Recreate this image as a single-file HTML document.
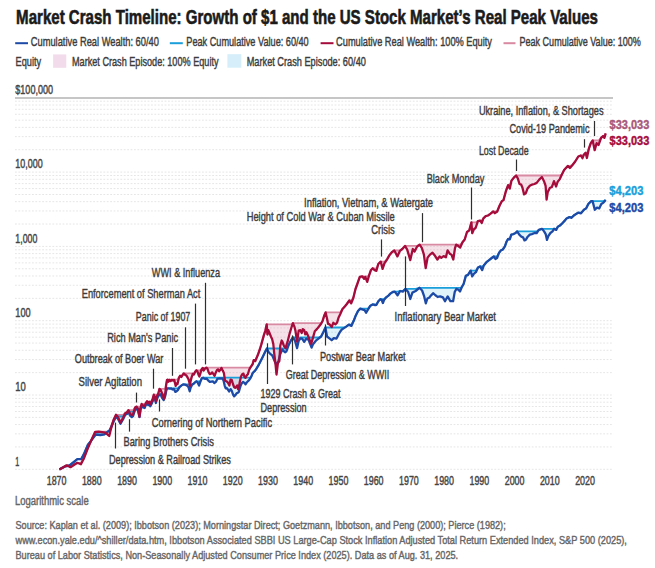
<!DOCTYPE html><html><head><meta charset="utf-8"><style>html,body{margin:0;padding:0;background:#fff;}svg{display:block;}text{font-family:"Liberation Sans", Arial, sans-serif;}</style></head><body>
<svg width="655" height="568" viewBox="0 0 655 568">
<rect width="655" height="568" fill="#fff"/>
<text x="16.1" y="23.5" font-size="20" fill="#1b1b1b" font-weight="bold" stroke="#1b1b1b" stroke-width="0.6" textLength="581.8" lengthAdjust="spacingAndGlyphs">Market Crash Timeline: Growth of $1 and the US Stock Market’s Real Peak Values</text>
<line x1="15.2" y1="43.2" x2="28" y2="43.2" stroke="#1d4aa6" stroke-width="2"/>
<text x="30.8" y="46.1" font-size="13" fill="#3c3c3c" font-weight="normal" stroke="#3c3c3c" stroke-width="0.42" textLength="128.1" lengthAdjust="spacingAndGlyphs">Cumulative Real Wealth: 60/40</text>
<line x1="169.8" y1="43.2" x2="182.8" y2="43.2" stroke="#1a9fdb" stroke-width="2"/>
<text x="186.3" y="46.1" font-size="13" fill="#3c3c3c" font-weight="normal" stroke="#3c3c3c" stroke-width="0.42" textLength="122.4" lengthAdjust="spacingAndGlyphs">Peak Cumulative Value: 60/40</text>
<line x1="320.6" y1="43.2" x2="333.5" y2="43.2" stroke="#a50c3c" stroke-width="2"/>
<text x="336.1" y="46.1" font-size="13" fill="#3c3c3c" font-weight="normal" stroke="#3c3c3c" stroke-width="0.42" textLength="155.9" lengthAdjust="spacingAndGlyphs">Cumulative Real Wealth: 100% Equity</text>
<line x1="503.5" y1="43.2" x2="515.5" y2="43.2" stroke="#d98aa3" stroke-width="2"/>
<text x="519.5" y="46.1" font-size="13" fill="#3c3c3c" font-weight="normal" stroke="#3c3c3c" stroke-width="0.42" textLength="121.3" lengthAdjust="spacingAndGlyphs">Peak Cumulative Value: 100%</text>
<text x="15.6" y="65.7" font-size="13" fill="#3c3c3c" font-weight="normal" stroke="#3c3c3c" stroke-width="0.42" textLength="25.6" lengthAdjust="spacingAndGlyphs">Equity</text>
<rect x="53.1" y="54.4" width="13.2" height="13.4" fill="#f2dceb"/>
<text x="72" y="65.7" font-size="13" fill="#3c3c3c" font-weight="normal" stroke="#3c3c3c" stroke-width="0.42" textLength="146.5" lengthAdjust="spacingAndGlyphs">Market Crash Episode: 100% Equity</text>
<rect x="227.4" y="54.2" width="13.9" height="13.5" fill="#d5eef9"/>
<text x="246.7" y="65.7" font-size="13" fill="#3c3c3c" font-weight="normal" stroke="#3c3c3c" stroke-width="0.42" textLength="119.2" lengthAdjust="spacingAndGlyphs">Market Crash Episode: 60/40</text>
<line x1="15" y1="469.3" x2="613" y2="469.3" stroke="#e6e6e6" stroke-width="1" stroke-dasharray="1.8 1.6"/>
<line x1="15" y1="446.93" x2="613" y2="446.93" stroke="#e6e6e6" stroke-width="1" stroke-dasharray="1.8 1.6"/>
<line x1="15" y1="433.85" x2="613" y2="433.85" stroke="#e6e6e6" stroke-width="1" stroke-dasharray="1.8 1.6"/>
<line x1="15" y1="424.57" x2="613" y2="424.57" stroke="#e6e6e6" stroke-width="1" stroke-dasharray="1.8 1.6"/>
<line x1="15" y1="417.37" x2="613" y2="417.37" stroke="#e6e6e6" stroke-width="1" stroke-dasharray="1.8 1.6"/>
<line x1="15" y1="411.48" x2="613" y2="411.48" stroke="#e6e6e6" stroke-width="1" stroke-dasharray="1.8 1.6"/>
<line x1="15" y1="406.51" x2="613" y2="406.51" stroke="#e6e6e6" stroke-width="1" stroke-dasharray="1.8 1.6"/>
<line x1="15" y1="402.2" x2="613" y2="402.2" stroke="#e6e6e6" stroke-width="1" stroke-dasharray="1.8 1.6"/>
<line x1="15" y1="398.4" x2="613" y2="398.4" stroke="#e6e6e6" stroke-width="1" stroke-dasharray="1.8 1.6"/>
<line x1="15" y1="395" x2="613" y2="395" stroke="#e6e6e6" stroke-width="1" stroke-dasharray="1.8 1.6"/>
<line x1="15" y1="372.63" x2="613" y2="372.63" stroke="#e6e6e6" stroke-width="1" stroke-dasharray="1.8 1.6"/>
<line x1="15" y1="359.55" x2="613" y2="359.55" stroke="#e6e6e6" stroke-width="1" stroke-dasharray="1.8 1.6"/>
<line x1="15" y1="350.27" x2="613" y2="350.27" stroke="#e6e6e6" stroke-width="1" stroke-dasharray="1.8 1.6"/>
<line x1="15" y1="343.07" x2="613" y2="343.07" stroke="#e6e6e6" stroke-width="1" stroke-dasharray="1.8 1.6"/>
<line x1="15" y1="337.18" x2="613" y2="337.18" stroke="#e6e6e6" stroke-width="1" stroke-dasharray="1.8 1.6"/>
<line x1="15" y1="332.21" x2="613" y2="332.21" stroke="#e6e6e6" stroke-width="1" stroke-dasharray="1.8 1.6"/>
<line x1="15" y1="327.9" x2="613" y2="327.9" stroke="#e6e6e6" stroke-width="1" stroke-dasharray="1.8 1.6"/>
<line x1="15" y1="324.1" x2="613" y2="324.1" stroke="#e6e6e6" stroke-width="1" stroke-dasharray="1.8 1.6"/>
<line x1="15" y1="320.7" x2="613" y2="320.7" stroke="#e6e6e6" stroke-width="1" stroke-dasharray="1.8 1.6"/>
<line x1="15" y1="298.33" x2="613" y2="298.33" stroke="#e6e6e6" stroke-width="1" stroke-dasharray="1.8 1.6"/>
<line x1="15" y1="285.25" x2="613" y2="285.25" stroke="#e6e6e6" stroke-width="1" stroke-dasharray="1.8 1.6"/>
<line x1="15" y1="275.97" x2="613" y2="275.97" stroke="#e6e6e6" stroke-width="1" stroke-dasharray="1.8 1.6"/>
<line x1="15" y1="268.77" x2="613" y2="268.77" stroke="#e6e6e6" stroke-width="1" stroke-dasharray="1.8 1.6"/>
<line x1="15" y1="262.88" x2="613" y2="262.88" stroke="#e6e6e6" stroke-width="1" stroke-dasharray="1.8 1.6"/>
<line x1="15" y1="257.91" x2="613" y2="257.91" stroke="#e6e6e6" stroke-width="1" stroke-dasharray="1.8 1.6"/>
<line x1="15" y1="253.6" x2="613" y2="253.6" stroke="#e6e6e6" stroke-width="1" stroke-dasharray="1.8 1.6"/>
<line x1="15" y1="249.8" x2="613" y2="249.8" stroke="#e6e6e6" stroke-width="1" stroke-dasharray="1.8 1.6"/>
<line x1="15" y1="246.4" x2="613" y2="246.4" stroke="#e6e6e6" stroke-width="1" stroke-dasharray="1.8 1.6"/>
<line x1="15" y1="224.03" x2="613" y2="224.03" stroke="#e6e6e6" stroke-width="1" stroke-dasharray="1.8 1.6"/>
<line x1="15" y1="210.95" x2="613" y2="210.95" stroke="#e6e6e6" stroke-width="1" stroke-dasharray="1.8 1.6"/>
<line x1="15" y1="201.67" x2="613" y2="201.67" stroke="#e6e6e6" stroke-width="1" stroke-dasharray="1.8 1.6"/>
<line x1="15" y1="194.47" x2="613" y2="194.47" stroke="#e6e6e6" stroke-width="1" stroke-dasharray="1.8 1.6"/>
<line x1="15" y1="188.58" x2="613" y2="188.58" stroke="#e6e6e6" stroke-width="1" stroke-dasharray="1.8 1.6"/>
<line x1="15" y1="183.61" x2="613" y2="183.61" stroke="#e6e6e6" stroke-width="1" stroke-dasharray="1.8 1.6"/>
<line x1="15" y1="179.3" x2="613" y2="179.3" stroke="#e6e6e6" stroke-width="1" stroke-dasharray="1.8 1.6"/>
<line x1="15" y1="175.5" x2="613" y2="175.5" stroke="#e6e6e6" stroke-width="1" stroke-dasharray="1.8 1.6"/>
<line x1="15" y1="172.1" x2="613" y2="172.1" stroke="#e6e6e6" stroke-width="1" stroke-dasharray="1.8 1.6"/>
<line x1="15" y1="149.73" x2="613" y2="149.73" stroke="#e6e6e6" stroke-width="1" stroke-dasharray="1.8 1.6"/>
<line x1="15" y1="136.65" x2="613" y2="136.65" stroke="#e6e6e6" stroke-width="1" stroke-dasharray="1.8 1.6"/>
<line x1="15" y1="127.37" x2="613" y2="127.37" stroke="#e6e6e6" stroke-width="1" stroke-dasharray="1.8 1.6"/>
<line x1="15" y1="120.17" x2="613" y2="120.17" stroke="#e6e6e6" stroke-width="1" stroke-dasharray="1.8 1.6"/>
<line x1="15" y1="114.28" x2="613" y2="114.28" stroke="#e6e6e6" stroke-width="1" stroke-dasharray="1.8 1.6"/>
<line x1="15" y1="109.31" x2="613" y2="109.31" stroke="#e6e6e6" stroke-width="1" stroke-dasharray="1.8 1.6"/>
<line x1="15" y1="105" x2="613" y2="105" stroke="#e6e6e6" stroke-width="1" stroke-dasharray="1.8 1.6"/>
<line x1="15" y1="101.2" x2="613" y2="101.2" stroke="#e6e6e6" stroke-width="1" stroke-dasharray="1.8 1.6"/>
<line x1="15" y1="98" x2="613" y2="98" stroke="#c6c6c6" stroke-width="2"/>
<text x="15.3" y="94" font-size="12.5" fill="#444" font-weight="normal" stroke="#444" stroke-width="0.42" textLength="37.7" lengthAdjust="spacingAndGlyphs">$100,000</text>
<text x="15.3" y="168.3" font-size="12.5" fill="#444" font-weight="normal" stroke="#444" stroke-width="0.42" textLength="27.3" lengthAdjust="spacingAndGlyphs">10,000</text>
<text x="15.3" y="242.6" font-size="12.5" fill="#444" font-weight="normal" stroke="#444" stroke-width="0.42" textLength="22" lengthAdjust="spacingAndGlyphs">1,000</text>
<text x="15.3" y="316.9" font-size="12.5" fill="#444" font-weight="normal" stroke="#444" stroke-width="0.42" textLength="15.3" lengthAdjust="spacingAndGlyphs">100</text>
<text x="15.3" y="391.2" font-size="12.5" fill="#444" font-weight="normal" stroke="#444" stroke-width="0.42" textLength="10.5" lengthAdjust="spacingAndGlyphs">10</text>
<text x="15.3" y="465.5" font-size="12.5" fill="#444" font-weight="normal" stroke="#444" stroke-width="0.42" textLength="4" lengthAdjust="spacingAndGlyphs">1</text>
<text x="46.7" y="485" font-size="12.5" fill="#444" font-weight="normal" stroke="#444" stroke-width="0.42" textLength="19.8" lengthAdjust="spacingAndGlyphs">1870</text>
<text x="81.93" y="485" font-size="12.5" fill="#444" font-weight="normal" stroke="#444" stroke-width="0.42" textLength="19.8" lengthAdjust="spacingAndGlyphs">1880</text>
<text x="117.16" y="485" font-size="12.5" fill="#444" font-weight="normal" stroke="#444" stroke-width="0.42" textLength="19.8" lengthAdjust="spacingAndGlyphs">1890</text>
<text x="152.39" y="485" font-size="12.5" fill="#444" font-weight="normal" stroke="#444" stroke-width="0.42" textLength="19.8" lengthAdjust="spacingAndGlyphs">1900</text>
<text x="187.62" y="485" font-size="12.5" fill="#444" font-weight="normal" stroke="#444" stroke-width="0.42" textLength="19.8" lengthAdjust="spacingAndGlyphs">1910</text>
<text x="222.85" y="485" font-size="12.5" fill="#444" font-weight="normal" stroke="#444" stroke-width="0.42" textLength="19.8" lengthAdjust="spacingAndGlyphs">1920</text>
<text x="258.08" y="485" font-size="12.5" fill="#444" font-weight="normal" stroke="#444" stroke-width="0.42" textLength="19.8" lengthAdjust="spacingAndGlyphs">1930</text>
<text x="293.31" y="485" font-size="12.5" fill="#444" font-weight="normal" stroke="#444" stroke-width="0.42" textLength="19.8" lengthAdjust="spacingAndGlyphs">1940</text>
<text x="328.54" y="485" font-size="12.5" fill="#444" font-weight="normal" stroke="#444" stroke-width="0.42" textLength="19.8" lengthAdjust="spacingAndGlyphs">1950</text>
<text x="363.77" y="485" font-size="12.5" fill="#444" font-weight="normal" stroke="#444" stroke-width="0.42" textLength="19.8" lengthAdjust="spacingAndGlyphs">1960</text>
<text x="399" y="485" font-size="12.5" fill="#444" font-weight="normal" stroke="#444" stroke-width="0.42" textLength="19.8" lengthAdjust="spacingAndGlyphs">1970</text>
<text x="434.23" y="485" font-size="12.5" fill="#444" font-weight="normal" stroke="#444" stroke-width="0.42" textLength="19.8" lengthAdjust="spacingAndGlyphs">1980</text>
<text x="469.46" y="485" font-size="12.5" fill="#444" font-weight="normal" stroke="#444" stroke-width="0.42" textLength="19.8" lengthAdjust="spacingAndGlyphs">1990</text>
<text x="504.69" y="485" font-size="12.5" fill="#444" font-weight="normal" stroke="#444" stroke-width="0.42" textLength="19.8" lengthAdjust="spacingAndGlyphs">2000</text>
<text x="539.92" y="485" font-size="12.5" fill="#444" font-weight="normal" stroke="#444" stroke-width="0.42" textLength="19.8" lengthAdjust="spacingAndGlyphs">2010</text>
<text x="575.15" y="485" font-size="12.5" fill="#444" font-weight="normal" stroke="#444" stroke-width="0.42" textLength="19.8" lengthAdjust="spacingAndGlyphs">2020</text>
<text x="15" y="505.2" font-size="12" fill="#666666" font-weight="normal" stroke="#666666" stroke-width="0.42" textLength="73.7" lengthAdjust="spacingAndGlyphs">Logarithmic scale</text>
<polygon points="59.4,469.4 66.6,465.3 70.5,465.3 77.3,462.8 80.9,462.8 84,458.2 87.9,448.1 91.3,440.3 95.2,431.8 98.6,431.6 105.3,431.6 109.2,431.6 112.1,424.4 113.6,419.8 116,414.8 117.8,414.8 120.5,414.8 123.1,414.8 125.2,413.2 126.8,412.4 128.4,410.1 130,410.1 131.8,410.1 133.1,410.1 135.2,407.4 136.6,406.6 138.1,406.6 139.5,406.6 140.5,406.6 141.6,404 143.1,404 144.6,404 145.8,403.1 147,401.3 148.2,401.3 149.4,401.3 150.3,401.3 151.5,401.3 152.7,398.9 153.8,394.7 155,394.7 155.9,394.7 157.1,394.7 158.3,393.6 159.5,388.8 160.7,388.8 161.9,388.8 163.1,388.8 164,388.8 165.2,388.8 166.1,385.2 167,380 167.6,379.6 168.5,379.6 169.4,379.6 170.6,379.6 171.8,379.6 173,379.6 174.2,379.6 175.1,379.6 175.7,379.6 176.6,379.6 177.5,379.6 179,377.6 180.1,375.8 181.3,375.8 182.5,375.2 183.7,373.4 184.9,373.4 186.1,373.4 187.3,373.4 188.5,373.4 189.4,373.4 189.8,373.4 190.6,373.4 191.5,373.4 192.7,373.4 193.9,373.4 195.2,371.8 196.4,370.3 197.6,370.3 198.5,370.3 199.4,370.3 200.3,370.3 201.5,369.4 202.7,367.9 203.6,367.9 204.8,367.9 206.3,367.6 207.5,367.6 208.7,367.6 209.8,367.6 211,367.6 212.2,367.6 213.4,367.6 214.6,367.6 215.8,367.6 217,367.6 218.2,367.6 219.1,367.6 220.3,367.6 221.5,367.6 222.7,367.6 223.9,367.6 224.9,367.6 226.1,367.6 227.3,367.6 228.5,367.6 229.4,367.6 230.6,367.6 231.8,367.6 233,367.6 234.2,367.6 235.4,367.6 236.3,367.6 237.2,367.6 238.1,367.6 239,367.6 239.8,367.6 241,367.6 242.2,367.6 243.4,367.6 244.6,367.6 245.5,367.6 246.7,367.6 247.9,367.6 249.1,367.6 250.3,367.6 251.5,365.8 252.7,364 253.7,360.1 255.3,360.1 257.9,354.8 260.1,348.5 261.2,344.9 263.8,335.4 265.4,330.6 266.7,324.3 267.4,324.3 268.3,324.3 269.8,324.3 271,324.3 272.1,324.3 273.3,324.3 274.3,324.3 275.6,324.3 276.5,324.3 277.9,324.3 279.3,324.3 280.3,324.3 281.7,324.3 282.3,324.3 283.9,324.3 285.5,324.3 287.6,324.3 289.7,324.3 291.3,324.3 292.9,323.2 294.5,323.2 295.5,323.2 297.1,323.2 298.7,323.2 300.3,323.2 301.7,323.2 302.8,323.2 304.2,323.2 305.3,323.2 306.4,323.2 307.9,323.2 309.5,323.2 311.1,323.2 312.7,323.2 314.8,323.2 316.9,323.2 319,323.2 321.1,323.2 322.7,320.7 324.3,315.4 325.6,312.4 327,312.4 328,312.4 329.6,312.4 331.7,312.4 333.3,312.4 335.4,312.4 337,312.4 338.6,312.4 340.2,312.4 342.5,309 345,306.3 346.8,304 349.3,300.5 351.2,300.5 353.3,298 355.5,289 357.3,284 359.8,276.9 362.2,276.3 364.1,276.3 365.3,276.3 367.2,276.3 369,275.7 370.9,270.2 372.7,268.3 374.6,268.3 376.4,268.3 378.3,264 380.7,261.6 382.6,261.6 384.4,261.6 386.9,259.7 389.3,255.4 391.8,252.3 394.3,250.5 397.4,250.5 399.9,250.5 402.3,249 405,245.9 407.2,245.9 410.3,245.9 412.8,245.9 414.6,245.9 417.1,245.9 419.6,244.7 421.8,244.7 423.9,244.7 425.7,244.7 427.6,244.7 430,244.7 432.5,244.7 435,244.7 437.4,244.7 439.6,244.7 441.3,244.7 443.6,244.7 445.9,244.7 447.6,244.7 449.9,244.7 451.6,244.7 453.3,244.7 455,244.7 456.2,244.6 457.9,244.6 460.2,244.6 462.5,242.3 464.7,239.5 467,232 469.3,230.3 471.4,222.3 472.2,222.3 473.9,222.3 475.6,222.3 477.9,221.2 480.2,220.6 481.7,220.6 483.4,218.4 485.7,216.1 488,215.5 490.3,213.8 493.2,211.5 494.9,211.5 497.2,211.5 499.5,205.8 501.8,201.2 503.5,200.1 505.8,191.5 508.1,185.2 509.8,185.2 511.5,180.6 513.8,177.7 516.1,175.5 517.8,175.5 519.5,175.5 521.2,175.5 522.4,175.5 524.1,175.5 525.8,175.5 527.5,175.5 529.8,175.5 532.1,175.5 534.4,175.5 536.7,175.5 539.2,175.5 541.9,175.5 544,175.5 545.6,175.5 546.6,175.5 547.7,175.5 549.8,175.5 551.9,175.5 554,175.5 556.1,175.5 557.7,175.5 559.8,175.5 562,174.3 564.1,170.1 567.8,165.9 569.9,165.9 572.3,165.2 575.2,161.5 578.3,156.5 580.8,155.5 582.5,155.5 583.8,154.8 585.6,152.8 586.9,152.8 588.8,148.9 590.8,143.1 592.7,140.5 594.7,140.5 596.6,140.5 598.5,140.5 601.1,137.9 603.1,136 604.4,136 605.7,133.4 605.7,133.4 604.4,137.9 603.1,136 601.1,137.9 598.5,145 596.6,143.1 594.7,150.2 592.7,140.5 590.8,143.1 588.8,148.9 586.9,158 585.6,152.8 583.8,154.8 582.5,158.2 580.8,155.5 578.3,156.5 575.2,161.5 572.3,165.2 569.9,168 567.8,165.9 564.1,170.1 562,174.3 559.8,179.1 557.7,181.7 556.1,186.5 554,181.2 551.9,187 549.8,188.1 547.7,192.3 546.6,199.7 545.6,185.9 544,181.2 541.9,177 539.2,179.6 536.7,182.9 534.4,184 532.1,184.6 529.8,185.8 527.5,188.6 525.8,193.2 524.1,194.4 522.4,187.5 521.2,184.6 519.5,184 517.8,178.3 516.1,175.5 513.8,177.7 511.5,180.6 509.8,188.6 508.1,185.2 505.8,191.5 503.5,200.1 501.8,201.2 499.5,205.8 497.2,211.5 494.9,213.2 493.2,211.5 490.3,213.8 488,215.5 485.7,216.1 483.4,218.4 481.7,223 480.2,220.6 477.9,221.2 475.6,228 473.9,229.2 472.2,233.2 471.4,222.3 469.3,230.3 467,232 464.7,239.5 462.5,242.3 460.2,247.5 457.9,245.8 456.2,244.6 455,248.1 453.3,259.5 451.6,254.9 449.9,253.8 447.6,250.3 445.9,257.2 443.6,256.1 441.3,257.8 439.6,256.5 437.4,259.5 435,255.8 432.5,252.7 430,254.6 427.6,257.6 425.7,268.1 423.9,254.6 421.8,247.8 419.6,244.7 417.1,246.6 414.6,251.5 412.8,249 410.3,260.1 407.2,249.6 405,245.9 402.3,249 399.9,250.9 397.4,256.4 394.3,250.5 391.8,252.3 389.3,255.4 386.9,259.7 384.4,263.4 382.6,268.9 380.7,261.6 378.3,264 376.4,270.8 374.6,270.2 372.7,268.3 370.9,270.2 369,275.7 367.2,281.9 365.3,276.9 364.1,278.8 362.2,276.3 359.8,276.9 357.3,284 355.5,289 353.3,298 351.2,303.4 349.3,300.5 346.8,304 345,306.3 342.5,309 340.2,314.3 338.6,317.5 337,322.8 335.4,324.4 333.3,322.8 331.7,327 329.6,324.4 328,323.8 327,318.5 325.6,312.4 324.3,315.4 322.7,320.7 321.1,323.8 319,326.5 316.9,329.1 314.8,331.2 312.7,338.6 311.1,343.9 309.5,339.7 307.9,335.5 306.4,332.3 305.3,334.4 304.2,330.2 302.8,329.1 301.7,333 300.3,330.2 298.7,330.6 297.1,341.7 295.5,331.1 294.5,326.9 292.9,323.2 291.3,328 289.7,333.3 287.6,341.7 285.5,348.1 283.9,345.9 282.3,341.5 281.7,340.5 280.3,345.6 279.3,361.1 277.9,363.2 276.5,374.5 275.6,365 274.3,354.1 273.3,344 272.1,339.1 271,336.7 269.8,333.8 268.3,330.2 267.4,334.5 266.7,324.3 265.4,330.6 263.8,335.4 261.2,344.9 260.1,348.5 257.9,354.8 255.3,361.1 253.7,360.1 252.7,364 251.5,365.8 250.3,367.6 249.1,370 247.9,374.2 246.7,375.4 245.5,377.8 244.6,377.2 243.4,373.6 242.2,374.2 241,376.6 239.8,381.9 239,386.7 238.1,389.1 237.2,385.5 236.3,386.7 235.4,387.9 234.2,387.3 233,384.3 231.8,380.1 230.6,379.6 229.4,385.5 228.5,383.7 227.3,381.9 226.1,381.3 224.9,380.1 223.9,373 222.7,370.6 221.5,367.9 220.3,370 219.1,371.2 218.2,369.4 217,370 215.8,372.4 214.6,375.9 213.4,374.1 212.2,372.4 211,373.6 209.8,374.1 208.7,372.4 207.5,368.8 206.3,367.6 204.8,368.8 203.6,370.6 202.7,367.9 201.5,369.4 200.3,373.6 199.4,376.5 198.5,374.7 197.6,371.8 196.4,370.3 195.2,371.8 193.9,374.6 192.7,374 191.5,377.6 190.6,381.1 189.8,385.9 189.4,382.3 188.5,379.3 187.3,377 186.1,375.2 184.9,374.6 183.7,373.4 182.5,375.2 181.3,377 180.1,375.8 179,377.6 177.5,384.1 176.6,383.5 175.7,385.9 175.1,383.5 174.2,379.9 173,380.5 171.8,379.9 170.6,381.1 169.4,379.9 168.5,381.7 167.6,379.6 167,380 166.1,385.2 165.2,394.1 164,398.9 163.1,395.9 161.9,393 160.7,390 159.5,388.8 158.3,393.6 157.1,395.9 155.9,401.3 155,397.1 153.8,394.7 152.7,398.9 151.5,401.9 150.3,404.3 149.4,401.9 148.2,403.1 147,401.3 145.8,403.1 144.6,406.1 143.1,405.5 141.6,404 140.5,408.2 139.5,416.7 138.1,409 136.6,406.6 135.2,407.4 133.1,414 131.8,415.1 130,413.5 128.4,410.1 126.8,412.4 125.2,413.2 123.1,417.7 120.5,422.5 117.8,416.7 116,414.8 113.6,419.8 112.1,424.4 109.2,436 105.3,432.6 98.6,431.6 95.2,431.8 91.3,440.3 87.9,448.1 84,458.2 80.9,464.3 77.3,462.8 70.5,467.2 66.6,465.3 59.4,469.4" fill="#d98aa3" fill-opacity="0.26" stroke="none"/>
<polygon points="59.4,469.4 65.6,466.3 69.5,465.5 77.3,459.2 81.1,459.2 84,453.9 87.9,444.7 90.8,441.1 95.7,434.5 100.5,434.5 104.4,434.3 107.8,431.6 109.7,430.2 112.6,423.9 113.8,421 116.2,416.5 117.8,416.5 120.5,416.5 123.1,416.5 125.2,414.8 126.8,414 128.4,411.8 130,411.8 131.8,411.8 133.1,411.8 135.2,409.5 136.6,408.7 138.1,408.7 139.5,408.7 140.5,408.7 141.6,406 143.1,406 144.6,406 145.8,405 147,403.3 148.2,403.3 149.4,403.3 150.3,403.3 151.5,403.3 152.7,401 153.8,397 155,397 155.9,397 157.1,397 158.3,396 159.8,394.5 160.7,394.5 161.9,394.5 163.7,394.5 165.2,394.5 166.4,390.1 167.3,388.3 168.8,388.3 170,388.3 171.2,388.3 172.4,388.3 173.9,388.3 175.4,388.3 176.6,388.3 177.8,388.3 179.5,387.1 181.3,385.6 183.1,384.4 184.9,384.4 186.7,384.4 188.5,384.4 189.7,384.4 190.6,384.4 192.1,384.4 193.9,383.5 195.2,382.2 196.4,381.3 197.6,381.3 199.1,381.3 200.3,381.3 201.8,378.3 203,377.7 204.2,377.7 205.4,377.7 206.6,377.7 208.4,377.7 209.8,377.7 211.3,377.7 212.8,377.7 214.3,377.7 215.8,377.7 217.3,377.7 218.5,377.7 219.7,377.7 221.2,377.7 222.4,377.7 223.6,377.7 224.8,377.7 225.7,377.7 226.4,377.7 227.6,377.7 229.1,377.7 230.6,377.7 231.8,377.7 233,377.7 234.2,377.7 235.4,377.7 236.6,377.7 237.8,377.7 238.7,377.7 239.6,377.7 240.7,377.7 241.9,377.7 243.1,377.7 244.6,377.7 245.5,377.7 246.7,377.7 247.9,377.7 249.1,377.7 250.3,377.7 251.5,376 252.7,373 253.9,371.8 255.1,370.6 256,369.4 259,364.3 262.2,358 265.3,351.6 266.9,348.5 268.5,348.5 270.6,348.5 272.3,348.5 274.9,348.5 276.5,348.5 278.6,348.5 280.2,348.5 282.3,348.5 285,348.5 286.5,348.5 288.7,344.9 290.8,340.7 292.9,337.5 295,337.5 297.1,337.5 298.7,337.5 300.3,337.5 302.1,337.5 304.2,337.5 306.3,337.5 308.5,337.5 310.6,337.5 311.6,337.5 313.2,337.5 315.9,337.5 318.5,337.5 321.1,336.5 323.3,332.3 325.4,327.5 327,327.5 329.1,327.5 331.7,327.5 333.8,327.5 336.5,327.5 338.6,327.5 340.3,327.5 341.8,327.5 344,327.5 346.6,326.4 348.8,324.6 351.4,324.6 353.6,321.1 355.8,315.4 358,311 360.2,308.6 362.9,308.6 364.6,308.6 366.1,308.6 368.2,308.6 370.4,305.7 372.6,304.4 375.2,304.4 376.5,304.4 378.3,301.3 380.5,299.1 381.8,299.1 382.9,299.1 384,299.1 386.2,297.3 388.4,295.6 390.6,293.4 392.8,292 394.8,291.6 397.5,291.6 400.2,291 402.8,291 405.5,288.9 408.2,288.9 410.3,288.9 412.4,288.9 415.6,288.9 419.4,287.8 422.1,287.8 424.2,287.8 425.8,287.8 427.4,287.8 429.5,287.8 431.1,287.8 433.3,287.8 435.4,287.8 437.6,287.8 440.2,287.8 442.9,287.8 445,287.8 447.7,287.8 450.4,287.8 453.1,287.8 454.7,287.8 456.3,287.8 458.4,287.8 460,287.8 461.6,287.5 463.7,283.8 465.8,275.9 468,274.9 470.6,270.6 472.2,270.6 473.8,270.6 475.9,270.6 478,267.5 480.1,266.4 482.2,266.4 483.8,265.4 486.4,262.2 489.1,260.1 491.7,258 493.8,256.4 495.4,256.4 497,256.4 499.1,252.7 500.7,250.6 502.8,249.5 504.9,246.3 506.6,241.5 508.2,238.8 509.8,238.8 511.3,234.6 513.5,234.1 515.6,233 517.1,231.4 519.3,231.4 521.4,231.4 523,231.4 524.5,231.4 526.1,231.4 527.7,231.4 529.8,231.4 531.9,231.4 534.6,231.4 536.7,231.4 538.8,229.9 542,228.8 544.1,228.8 545.7,228.8 547,228.8 548.3,228.8 550.4,228.8 552.5,228.8 554.1,228.8 556.2,228.8 557.8,226.7 559.9,225.6 562.6,223 565,220.4 566.5,218.5 569.4,217.1 571.6,217.1 574.5,214.9 578.1,212.7 581,212.7 583.9,209.8 586.1,208.4 588.3,204 591.2,201.1 592.6,201.1 594.8,201.1 597,201.1 599.2,201.1 601.3,201.1 603.5,201.1 605.7,200 605.7,200 603.5,202.6 601.3,204 599.2,208.4 597,207.6 594.8,209.8 592.6,201.1 591.2,201.1 588.3,204 586.1,208.4 583.9,209.8 581,213.4 578.1,212.7 574.5,214.9 571.6,217.8 569.4,217.1 566.5,218.5 565,220.4 562.6,223 559.9,225.6 557.8,226.7 556.2,229.9 554.1,228.8 552.5,231.4 550.4,233 548.3,236.2 547,239.9 545.7,234.1 544.1,231.4 542,228.8 538.8,229.9 536.7,233 534.6,233 531.9,234.1 529.8,234.6 527.7,236.7 526.1,239.4 524.5,240.4 523,237.3 521.4,236.7 519.3,234.6 517.1,231.4 515.6,233 513.5,234.1 511.3,234.6 509.8,239.4 508.2,238.8 506.6,241.5 504.9,246.3 502.8,249.5 500.7,250.6 499.1,252.7 497,258 495.4,259 493.8,256.4 491.7,258 489.1,260.1 486.4,262.2 483.8,265.4 482.2,270.1 480.1,266.4 478,267.5 475.9,272.2 473.8,273.8 472.2,276.4 470.6,270.6 468,274.9 465.8,275.9 463.7,283.8 461.6,287.5 460,291.5 458.4,289.8 456.3,288.9 454.7,292.1 453.1,301.2 450.4,301.2 447.7,296.4 445,301.2 442.9,297.4 440.2,296.4 437.6,296.9 435.4,295.3 433.3,293.2 431.1,295.3 429.5,297.4 427.4,298.5 425.8,303.3 424.2,296.4 422.1,290.5 419.4,287.8 415.6,291 412.4,292.6 410.3,299 408.2,292.1 405.5,288.9 402.8,291.6 400.2,291 397.5,295.3 394.8,291.6 392.8,292 390.6,293.4 388.4,295.6 386.2,297.3 384,300 382.9,303 381.8,300 380.5,299.1 378.3,301.3 376.5,304.8 375.2,305.2 372.6,304.4 370.4,305.7 368.2,309.2 366.1,312.7 364.6,310.1 362.9,309.6 360.2,308.6 358,311 355.8,315.4 353.6,321.1 351.4,325.9 348.8,324.6 346.6,326.4 344,328.1 341.8,329.5 340.3,331.5 338.6,334.4 336.5,338.6 333.8,338.1 331.7,340.2 329.1,338.1 327,336.5 325.4,327.5 323.3,332.3 321.1,336.5 318.5,338.6 315.9,340.7 313.2,343.9 311.6,347.6 310.6,345 308.5,339.7 306.3,338.6 304.2,341.8 302.1,338.6 300.3,338.5 298.7,340.7 297.1,348.1 295,340.7 292.9,337.5 290.8,340.7 288.7,344.9 286.5,351.2 285,352.3 282.3,349.6 280.2,354.4 278.6,360.7 276.5,365 274.9,361.8 272.3,355.5 270.6,354.2 268.5,352 266.9,348.5 265.3,351.6 262.2,358 259,364.3 256,369.4 255.1,370.6 253.9,371.8 252.7,373 251.5,376 250.3,378.4 249.1,380.1 247.9,381.3 246.7,382.5 245.5,384.3 244.6,383.1 243.1,381.9 241.9,383.1 240.7,385.5 239.6,389.1 238.7,392.1 237.8,392.7 236.6,393.3 235.4,395.1 234.2,396.3 233,394.5 231.8,390.9 230.6,389.1 229.1,391.5 227.6,389.1 226.4,387.9 225.7,388.2 224.8,386.1 223.6,380.7 222.4,378.3 221.2,378.6 219.7,378.3 218.5,378.6 217.3,378.9 215.8,381.9 214.3,383.1 212.8,381.3 211.3,381.6 209.8,381.9 208.4,380.7 206.6,378.6 205.4,378.9 204.2,378.6 203,377.7 201.8,378.3 200.3,381.9 199.1,385.5 197.6,382.5 196.4,381.3 195.2,382.2 193.9,383.5 192.1,384.7 190.6,387.7 189.7,391.3 188.5,387.1 186.7,385.3 184.9,384.7 183.1,384.4 181.3,385.6 179.5,387.1 177.8,390.1 176.6,391.3 175.4,391.9 173.9,388.9 172.4,389.5 171.2,388.3 170,388.6 168.8,388.3 167.3,388.3 166.4,390.1 165.2,396 163.7,400.1 161.9,397.5 160.7,394.5 159.8,394.5 158.3,396 157.1,398.5 155.9,403 155,399.3 153.8,397 152.7,401 151.5,404 150.3,406.3 149.4,404 148.2,405 147,403.3 145.8,405 144.6,408 143.1,407.5 141.6,406 140.5,410 139.5,417 138.1,411 136.6,408.7 135.2,409.5 133.1,416 131.8,417 130,415.5 128.4,411.8 126.8,414 125.2,414.8 123.1,419.2 120.5,423.8 117.8,418.5 116.2,416.5 113.8,421 112.6,423.9 109.7,430.2 107.8,431.6 104.4,434.3 100.5,435 95.7,434.5 90.8,441.1 87.9,444.7 84,453.9 81.1,459.2 77.3,459.2 69.5,465.5 65.6,466.3 59.4,469.4" fill="#1a9fdb" fill-opacity="0.13" stroke="none"/>
<polyline points="59.4,469.4 66.6,465.3 70.5,465.3 77.3,462.8 80.9,462.8 84,458.2 87.9,448.1 91.3,440.3 95.2,431.8 98.6,431.6 105.3,431.6 109.2,431.6 112.1,424.4 113.6,419.8 116,414.8 117.8,414.8 120.5,414.8 123.1,414.8 125.2,413.2 126.8,412.4 128.4,410.1 130,410.1 131.8,410.1 133.1,410.1 135.2,407.4 136.6,406.6 138.1,406.6 139.5,406.6 140.5,406.6 141.6,404 143.1,404 144.6,404 145.8,403.1 147,401.3 148.2,401.3 149.4,401.3 150.3,401.3 151.5,401.3 152.7,398.9 153.8,394.7 155,394.7 155.9,394.7 157.1,394.7 158.3,393.6 159.5,388.8 160.7,388.8 161.9,388.8 163.1,388.8 164,388.8 165.2,388.8 166.1,385.2 167,380 167.6,379.6 168.5,379.6 169.4,379.6 170.6,379.6 171.8,379.6 173,379.6 174.2,379.6 175.1,379.6 175.7,379.6 176.6,379.6 177.5,379.6 179,377.6 180.1,375.8 181.3,375.8 182.5,375.2 183.7,373.4 184.9,373.4 186.1,373.4 187.3,373.4 188.5,373.4 189.4,373.4 189.8,373.4 190.6,373.4 191.5,373.4 192.7,373.4 193.9,373.4 195.2,371.8 196.4,370.3 197.6,370.3 198.5,370.3 199.4,370.3 200.3,370.3 201.5,369.4 202.7,367.9 203.6,367.9 204.8,367.9 206.3,367.6 207.5,367.6 208.7,367.6 209.8,367.6 211,367.6 212.2,367.6 213.4,367.6 214.6,367.6 215.8,367.6 217,367.6 218.2,367.6 219.1,367.6 220.3,367.6 221.5,367.6 222.7,367.6 223.9,367.6 224.9,367.6 226.1,367.6 227.3,367.6 228.5,367.6 229.4,367.6 230.6,367.6 231.8,367.6 233,367.6 234.2,367.6 235.4,367.6 236.3,367.6 237.2,367.6 238.1,367.6 239,367.6 239.8,367.6 241,367.6 242.2,367.6 243.4,367.6 244.6,367.6 245.5,367.6 246.7,367.6 247.9,367.6 249.1,367.6 250.3,367.6 251.5,365.8 252.7,364 253.7,360.1 255.3,360.1 257.9,354.8 260.1,348.5 261.2,344.9 263.8,335.4 265.4,330.6 266.7,324.3 267.4,324.3 268.3,324.3 269.8,324.3 271,324.3 272.1,324.3 273.3,324.3 274.3,324.3 275.6,324.3 276.5,324.3 277.9,324.3 279.3,324.3 280.3,324.3 281.7,324.3 282.3,324.3 283.9,324.3 285.5,324.3 287.6,324.3 289.7,324.3 291.3,324.3 292.9,323.2 294.5,323.2 295.5,323.2 297.1,323.2 298.7,323.2 300.3,323.2 301.7,323.2 302.8,323.2 304.2,323.2 305.3,323.2 306.4,323.2 307.9,323.2 309.5,323.2 311.1,323.2 312.7,323.2 314.8,323.2 316.9,323.2 319,323.2 321.1,323.2 322.7,320.7 324.3,315.4 325.6,312.4 327,312.4 328,312.4 329.6,312.4 331.7,312.4 333.3,312.4 335.4,312.4 337,312.4 338.6,312.4 340.2,312.4 342.5,309 345,306.3 346.8,304 349.3,300.5 351.2,300.5 353.3,298 355.5,289 357.3,284 359.8,276.9 362.2,276.3 364.1,276.3 365.3,276.3 367.2,276.3 369,275.7 370.9,270.2 372.7,268.3 374.6,268.3 376.4,268.3 378.3,264 380.7,261.6 382.6,261.6 384.4,261.6 386.9,259.7 389.3,255.4 391.8,252.3 394.3,250.5 397.4,250.5 399.9,250.5 402.3,249 405,245.9 407.2,245.9 410.3,245.9 412.8,245.9 414.6,245.9 417.1,245.9 419.6,244.7 421.8,244.7 423.9,244.7 425.7,244.7 427.6,244.7 430,244.7 432.5,244.7 435,244.7 437.4,244.7 439.6,244.7 441.3,244.7 443.6,244.7 445.9,244.7 447.6,244.7 449.9,244.7 451.6,244.7 453.3,244.7 455,244.7 456.2,244.6 457.9,244.6 460.2,244.6 462.5,242.3 464.7,239.5 467,232 469.3,230.3 471.4,222.3 472.2,222.3 473.9,222.3 475.6,222.3 477.9,221.2 480.2,220.6 481.7,220.6 483.4,218.4 485.7,216.1 488,215.5 490.3,213.8 493.2,211.5 494.9,211.5 497.2,211.5 499.5,205.8 501.8,201.2 503.5,200.1 505.8,191.5 508.1,185.2 509.8,185.2 511.5,180.6 513.8,177.7 516.1,175.5 517.8,175.5 519.5,175.5 521.2,175.5 522.4,175.5 524.1,175.5 525.8,175.5 527.5,175.5 529.8,175.5 532.1,175.5 534.4,175.5 536.7,175.5 539.2,175.5 541.9,175.5 544,175.5 545.6,175.5 546.6,175.5 547.7,175.5 549.8,175.5 551.9,175.5 554,175.5 556.1,175.5 557.7,175.5 559.8,175.5 562,174.3 564.1,170.1 567.8,165.9 569.9,165.9 572.3,165.2 575.2,161.5 578.3,156.5 580.8,155.5 582.5,155.5 583.8,154.8 585.6,152.8 586.9,152.8 588.8,148.9 590.8,143.1 592.7,140.5 594.7,140.5 596.6,140.5 598.5,140.5 601.1,137.9 603.1,136 604.4,136 605.7,133.4" fill="none" stroke="#d98aa3" stroke-width="1.8" stroke-linejoin="round"/>
<polyline points="59.4,469.4 65.6,466.3 69.5,465.5 77.3,459.2 81.1,459.2 84,453.9 87.9,444.7 90.8,441.1 95.7,434.5 100.5,434.5 104.4,434.3 107.8,431.6 109.7,430.2 112.6,423.9 113.8,421 116.2,416.5 117.8,416.5 120.5,416.5 123.1,416.5 125.2,414.8 126.8,414 128.4,411.8 130,411.8 131.8,411.8 133.1,411.8 135.2,409.5 136.6,408.7 138.1,408.7 139.5,408.7 140.5,408.7 141.6,406 143.1,406 144.6,406 145.8,405 147,403.3 148.2,403.3 149.4,403.3 150.3,403.3 151.5,403.3 152.7,401 153.8,397 155,397 155.9,397 157.1,397 158.3,396 159.8,394.5 160.7,394.5 161.9,394.5 163.7,394.5 165.2,394.5 166.4,390.1 167.3,388.3 168.8,388.3 170,388.3 171.2,388.3 172.4,388.3 173.9,388.3 175.4,388.3 176.6,388.3 177.8,388.3 179.5,387.1 181.3,385.6 183.1,384.4 184.9,384.4 186.7,384.4 188.5,384.4 189.7,384.4 190.6,384.4 192.1,384.4 193.9,383.5 195.2,382.2 196.4,381.3 197.6,381.3 199.1,381.3 200.3,381.3 201.8,378.3 203,377.7 204.2,377.7 205.4,377.7 206.6,377.7 208.4,377.7 209.8,377.7 211.3,377.7 212.8,377.7 214.3,377.7 215.8,377.7 217.3,377.7 218.5,377.7 219.7,377.7 221.2,377.7 222.4,377.7 223.6,377.7 224.8,377.7 225.7,377.7 226.4,377.7 227.6,377.7 229.1,377.7 230.6,377.7 231.8,377.7 233,377.7 234.2,377.7 235.4,377.7 236.6,377.7 237.8,377.7 238.7,377.7 239.6,377.7 240.7,377.7 241.9,377.7 243.1,377.7 244.6,377.7 245.5,377.7 246.7,377.7 247.9,377.7 249.1,377.7 250.3,377.7 251.5,376 252.7,373 253.9,371.8 255.1,370.6 256,369.4 259,364.3 262.2,358 265.3,351.6 266.9,348.5 268.5,348.5 270.6,348.5 272.3,348.5 274.9,348.5 276.5,348.5 278.6,348.5 280.2,348.5 282.3,348.5 285,348.5 286.5,348.5 288.7,344.9 290.8,340.7 292.9,337.5 295,337.5 297.1,337.5 298.7,337.5 300.3,337.5 302.1,337.5 304.2,337.5 306.3,337.5 308.5,337.5 310.6,337.5 311.6,337.5 313.2,337.5 315.9,337.5 318.5,337.5 321.1,336.5 323.3,332.3 325.4,327.5 327,327.5 329.1,327.5 331.7,327.5 333.8,327.5 336.5,327.5 338.6,327.5 340.3,327.5 341.8,327.5 344,327.5 346.6,326.4 348.8,324.6 351.4,324.6 353.6,321.1 355.8,315.4 358,311 360.2,308.6 362.9,308.6 364.6,308.6 366.1,308.6 368.2,308.6 370.4,305.7 372.6,304.4 375.2,304.4 376.5,304.4 378.3,301.3 380.5,299.1 381.8,299.1 382.9,299.1 384,299.1 386.2,297.3 388.4,295.6 390.6,293.4 392.8,292 394.8,291.6 397.5,291.6 400.2,291 402.8,291 405.5,288.9 408.2,288.9 410.3,288.9 412.4,288.9 415.6,288.9 419.4,287.8 422.1,287.8 424.2,287.8 425.8,287.8 427.4,287.8 429.5,287.8 431.1,287.8 433.3,287.8 435.4,287.8 437.6,287.8 440.2,287.8 442.9,287.8 445,287.8 447.7,287.8 450.4,287.8 453.1,287.8 454.7,287.8 456.3,287.8 458.4,287.8 460,287.8 461.6,287.5 463.7,283.8 465.8,275.9 468,274.9 470.6,270.6 472.2,270.6 473.8,270.6 475.9,270.6 478,267.5 480.1,266.4 482.2,266.4 483.8,265.4 486.4,262.2 489.1,260.1 491.7,258 493.8,256.4 495.4,256.4 497,256.4 499.1,252.7 500.7,250.6 502.8,249.5 504.9,246.3 506.6,241.5 508.2,238.8 509.8,238.8 511.3,234.6 513.5,234.1 515.6,233 517.1,231.4 519.3,231.4 521.4,231.4 523,231.4 524.5,231.4 526.1,231.4 527.7,231.4 529.8,231.4 531.9,231.4 534.6,231.4 536.7,231.4 538.8,229.9 542,228.8 544.1,228.8 545.7,228.8 547,228.8 548.3,228.8 550.4,228.8 552.5,228.8 554.1,228.8 556.2,228.8 557.8,226.7 559.9,225.6 562.6,223 565,220.4 566.5,218.5 569.4,217.1 571.6,217.1 574.5,214.9 578.1,212.7 581,212.7 583.9,209.8 586.1,208.4 588.3,204 591.2,201.1 592.6,201.1 594.8,201.1 597,201.1 599.2,201.1 601.3,201.1 603.5,201.1 605.7,200" fill="none" stroke="#1a9fdb" stroke-width="1.8" stroke-linejoin="round"/>
<polyline points="59.4,469.4 65.6,466.3 69.5,465.5 77.3,459.2 81.1,459.2 84,453.9 87.9,444.7 90.8,441.1 95.7,434.5 100.5,435 104.4,434.3 107.8,431.6 109.7,430.2 112.6,423.9 113.8,421 116.2,416.5 117.8,418.5 120.5,423.8 123.1,419.2 125.2,414.8 126.8,414 128.4,411.8 130,415.5 131.8,417 133.1,416 135.2,409.5 136.6,408.7 138.1,411 139.5,417 140.5,410 141.6,406 143.1,407.5 144.6,408 145.8,405 147,403.3 148.2,405 149.4,404 150.3,406.3 151.5,404 152.7,401 153.8,397 155,399.3 155.9,403 157.1,398.5 158.3,396 159.8,394.5 160.7,394.5 161.9,397.5 163.7,400.1 165.2,396 166.4,390.1 167.3,388.3 168.8,388.3 170,388.6 171.2,388.3 172.4,389.5 173.9,388.9 175.4,391.9 176.6,391.3 177.8,390.1 179.5,387.1 181.3,385.6 183.1,384.4 184.9,384.7 186.7,385.3 188.5,387.1 189.7,391.3 190.6,387.7 192.1,384.7 193.9,383.5 195.2,382.2 196.4,381.3 197.6,382.5 199.1,385.5 200.3,381.9 201.8,378.3 203,377.7 204.2,378.6 205.4,378.9 206.6,378.6 208.4,380.7 209.8,381.9 211.3,381.6 212.8,381.3 214.3,383.1 215.8,381.9 217.3,378.9 218.5,378.6 219.7,378.3 221.2,378.6 222.4,378.3 223.6,380.7 224.8,386.1 225.7,388.2 226.4,387.9 227.6,389.1 229.1,391.5 230.6,389.1 231.8,390.9 233,394.5 234.2,396.3 235.4,395.1 236.6,393.3 237.8,392.7 238.7,392.1 239.6,389.1 240.7,385.5 241.9,383.1 243.1,381.9 244.6,383.1 245.5,384.3 246.7,382.5 247.9,381.3 249.1,380.1 250.3,378.4 251.5,376 252.7,373 253.9,371.8 255.1,370.6 256,369.4 259,364.3 262.2,358 265.3,351.6 266.9,348.5 268.5,352 270.6,354.2 272.3,355.5 274.9,361.8 276.5,365 278.6,360.7 280.2,354.4 282.3,349.6 285,352.3 286.5,351.2 288.7,344.9 290.8,340.7 292.9,337.5 295,340.7 297.1,348.1 298.7,340.7 300.3,338.5 302.1,338.6 304.2,341.8 306.3,338.6 308.5,339.7 310.6,345 311.6,347.6 313.2,343.9 315.9,340.7 318.5,338.6 321.1,336.5 323.3,332.3 325.4,327.5 327,336.5 329.1,338.1 331.7,340.2 333.8,338.1 336.5,338.6 338.6,334.4 340.3,331.5 341.8,329.5 344,328.1 346.6,326.4 348.8,324.6 351.4,325.9 353.6,321.1 355.8,315.4 358,311 360.2,308.6 362.9,309.6 364.6,310.1 366.1,312.7 368.2,309.2 370.4,305.7 372.6,304.4 375.2,305.2 376.5,304.8 378.3,301.3 380.5,299.1 381.8,300 382.9,303 384,300 386.2,297.3 388.4,295.6 390.6,293.4 392.8,292 394.8,291.6 397.5,295.3 400.2,291 402.8,291.6 405.5,288.9 408.2,292.1 410.3,299 412.4,292.6 415.6,291 419.4,287.8 422.1,290.5 424.2,296.4 425.8,303.3 427.4,298.5 429.5,297.4 431.1,295.3 433.3,293.2 435.4,295.3 437.6,296.9 440.2,296.4 442.9,297.4 445,301.2 447.7,296.4 450.4,301.2 453.1,301.2 454.7,292.1 456.3,288.9 458.4,289.8 460,291.5 461.6,287.5 463.7,283.8 465.8,275.9 468,274.9 470.6,270.6 472.2,276.4 473.8,273.8 475.9,272.2 478,267.5 480.1,266.4 482.2,270.1 483.8,265.4 486.4,262.2 489.1,260.1 491.7,258 493.8,256.4 495.4,259 497,258 499.1,252.7 500.7,250.6 502.8,249.5 504.9,246.3 506.6,241.5 508.2,238.8 509.8,239.4 511.3,234.6 513.5,234.1 515.6,233 517.1,231.4 519.3,234.6 521.4,236.7 523,237.3 524.5,240.4 526.1,239.4 527.7,236.7 529.8,234.6 531.9,234.1 534.6,233 536.7,233 538.8,229.9 542,228.8 544.1,231.4 545.7,234.1 547,239.9 548.3,236.2 550.4,233 552.5,231.4 554.1,228.8 556.2,229.9 557.8,226.7 559.9,225.6 562.6,223 565,220.4 566.5,218.5 569.4,217.1 571.6,217.8 574.5,214.9 578.1,212.7 581,213.4 583.9,209.8 586.1,208.4 588.3,204 591.2,201.1 592.6,201.1 594.8,209.8 597,207.6 599.2,208.4 601.3,204 603.5,202.6 605.7,200" fill="none" stroke="#1d4aa6" stroke-width="2.3" stroke-linejoin="round"/>
<polyline points="59.4,469.4 66.6,465.3 70.5,467.2 77.3,462.8 80.9,464.3 84,458.2 87.9,448.1 91.3,440.3 95.2,431.8 98.6,431.6 105.3,432.6 109.2,436 112.1,424.4 113.6,419.8 116,414.8 117.8,416.7 120.5,422.5 123.1,417.7 125.2,413.2 126.8,412.4 128.4,410.1 130,413.5 131.8,415.1 133.1,414 135.2,407.4 136.6,406.6 138.1,409 139.5,416.7 140.5,408.2 141.6,404 143.1,405.5 144.6,406.1 145.8,403.1 147,401.3 148.2,403.1 149.4,401.9 150.3,404.3 151.5,401.9 152.7,398.9 153.8,394.7 155,397.1 155.9,401.3 157.1,395.9 158.3,393.6 159.5,388.8 160.7,390 161.9,393 163.1,395.9 164,398.9 165.2,394.1 166.1,385.2 167,380 167.6,379.6 168.5,381.7 169.4,379.9 170.6,381.1 171.8,379.9 173,380.5 174.2,379.9 175.1,383.5 175.7,385.9 176.6,383.5 177.5,384.1 179,377.6 180.1,375.8 181.3,377 182.5,375.2 183.7,373.4 184.9,374.6 186.1,375.2 187.3,377 188.5,379.3 189.4,382.3 189.8,385.9 190.6,381.1 191.5,377.6 192.7,374 193.9,374.6 195.2,371.8 196.4,370.3 197.6,371.8 198.5,374.7 199.4,376.5 200.3,373.6 201.5,369.4 202.7,367.9 203.6,370.6 204.8,368.8 206.3,367.6 207.5,368.8 208.7,372.4 209.8,374.1 211,373.6 212.2,372.4 213.4,374.1 214.6,375.9 215.8,372.4 217,370 218.2,369.4 219.1,371.2 220.3,370 221.5,367.9 222.7,370.6 223.9,373 224.9,380.1 226.1,381.3 227.3,381.9 228.5,383.7 229.4,385.5 230.6,379.6 231.8,380.1 233,384.3 234.2,387.3 235.4,387.9 236.3,386.7 237.2,385.5 238.1,389.1 239,386.7 239.8,381.9 241,376.6 242.2,374.2 243.4,373.6 244.6,377.2 245.5,377.8 246.7,375.4 247.9,374.2 249.1,370 250.3,367.6 251.5,365.8 252.7,364 253.7,360.1 255.3,361.1 257.9,354.8 260.1,348.5 261.2,344.9 263.8,335.4 265.4,330.6 266.7,324.3 267.4,334.5 268.3,330.2 269.8,333.8 271,336.7 272.1,339.1 273.3,344 274.3,354.1 275.6,365 276.5,374.5 277.9,363.2 279.3,361.1 280.3,345.6 281.7,340.5 282.3,341.5 283.9,345.9 285.5,348.1 287.6,341.7 289.7,333.3 291.3,328 292.9,323.2 294.5,326.9 295.5,331.1 297.1,341.7 298.7,330.6 300.3,330.2 301.7,333 302.8,329.1 304.2,330.2 305.3,334.4 306.4,332.3 307.9,335.5 309.5,339.7 311.1,343.9 312.7,338.6 314.8,331.2 316.9,329.1 319,326.5 321.1,323.8 322.7,320.7 324.3,315.4 325.6,312.4 327,318.5 328,323.8 329.6,324.4 331.7,327 333.3,322.8 335.4,324.4 337,322.8 338.6,317.5 340.2,314.3 342.5,309 345,306.3 346.8,304 349.3,300.5 351.2,303.4 353.3,298 355.5,289 357.3,284 359.8,276.9 362.2,276.3 364.1,278.8 365.3,276.9 367.2,281.9 369,275.7 370.9,270.2 372.7,268.3 374.6,270.2 376.4,270.8 378.3,264 380.7,261.6 382.6,268.9 384.4,263.4 386.9,259.7 389.3,255.4 391.8,252.3 394.3,250.5 397.4,256.4 399.9,250.9 402.3,249 405,245.9 407.2,249.6 410.3,260.1 412.8,249 414.6,251.5 417.1,246.6 419.6,244.7 421.8,247.8 423.9,254.6 425.7,268.1 427.6,257.6 430,254.6 432.5,252.7 435,255.8 437.4,259.5 439.6,256.5 441.3,257.8 443.6,256.1 445.9,257.2 447.6,250.3 449.9,253.8 451.6,254.9 453.3,259.5 455,248.1 456.2,244.6 457.9,245.8 460.2,247.5 462.5,242.3 464.7,239.5 467,232 469.3,230.3 471.4,222.3 472.2,233.2 473.9,229.2 475.6,228 477.9,221.2 480.2,220.6 481.7,223 483.4,218.4 485.7,216.1 488,215.5 490.3,213.8 493.2,211.5 494.9,213.2 497.2,211.5 499.5,205.8 501.8,201.2 503.5,200.1 505.8,191.5 508.1,185.2 509.8,188.6 511.5,180.6 513.8,177.7 516.1,175.5 517.8,178.3 519.5,184 521.2,184.6 522.4,187.5 524.1,194.4 525.8,193.2 527.5,188.6 529.8,185.8 532.1,184.6 534.4,184 536.7,182.9 539.2,179.6 541.9,177 544,181.2 545.6,185.9 546.6,199.7 547.7,192.3 549.8,188.1 551.9,187 554,181.2 556.1,186.5 557.7,181.7 559.8,179.1 562,174.3 564.1,170.1 567.8,165.9 569.9,168 572.3,165.2 575.2,161.5 578.3,156.5 580.8,155.5 582.5,158.2 583.8,154.8 585.6,152.8 586.9,158 588.8,148.9 590.8,143.1 592.7,140.5 594.7,150.2 596.6,143.1 598.5,145 601.1,137.9 603.1,136 604.4,137.9 605.7,133.4" fill="none" stroke="#a50c3c" stroke-width="2.3" stroke-linejoin="round"/>
<line x1="594.5" y1="121" x2="594.5" y2="136" stroke="#2e2e2e" stroke-width="1.2"/>
<line x1="584.5" y1="139.2" x2="584.5" y2="147.6" stroke="#2e2e2e" stroke-width="1.2"/>
<line x1="516.5" y1="159.5" x2="516.5" y2="171" stroke="#2e2e2e" stroke-width="1.2"/>
<line x1="471.5" y1="187.5" x2="471.5" y2="219.5" stroke="#2e2e2e" stroke-width="1.2"/>
<line x1="422.5" y1="213.1" x2="422.5" y2="242.2" stroke="#2e2e2e" stroke-width="1.2"/>
<line x1="381.5" y1="239.4" x2="381.5" y2="256.6" stroke="#2e2e2e" stroke-width="1.2"/>
<line x1="205.5" y1="282.8" x2="205.5" y2="364.4" stroke="#2e2e2e" stroke-width="1.2"/>
<line x1="195.5" y1="303.6" x2="195.5" y2="364.4" stroke="#2e2e2e" stroke-width="1.2"/>
<line x1="185.5" y1="327.3" x2="185.5" y2="368.7" stroke="#2e2e2e" stroke-width="1.2"/>
<line x1="172.5" y1="348" x2="172.5" y2="375.8" stroke="#2e2e2e" stroke-width="1.2"/>
<line x1="153.5" y1="368.7" x2="153.5" y2="388.7" stroke="#2e2e2e" stroke-width="1.2"/>
<line x1="136.5" y1="392.6" x2="136.5" y2="402.5" stroke="#2e2e2e" stroke-width="1.2"/>
<line x1="159.5" y1="399.4" x2="159.5" y2="411.5" stroke="#2e2e2e" stroke-width="1.2"/>
<line x1="129.5" y1="419.2" x2="129.5" y2="431.6" stroke="#2e2e2e" stroke-width="1.2"/>
<line x1="115.5" y1="422.6" x2="115.5" y2="448.5" stroke="#2e2e2e" stroke-width="1.2"/>
<line x1="267.5" y1="343.3" x2="267.5" y2="384" stroke="#2e2e2e" stroke-width="1.2"/>
<line x1="292.5" y1="335.4" x2="292.5" y2="364.4" stroke="#2e2e2e" stroke-width="1.2"/>
<line x1="325.5" y1="324.4" x2="325.5" y2="345.5" stroke="#2e2e2e" stroke-width="1.2"/>
<line x1="405.5" y1="256.4" x2="405.5" y2="306" stroke="#2e2e2e" stroke-width="1.2"/>
<text x="478.9" y="114.9" font-size="13" fill="#3c3c3c" font-weight="normal" stroke="#3c3c3c" stroke-width="0.42" textLength="124.6" lengthAdjust="spacingAndGlyphs">Ukraine, Inflation, &amp; Shortages</text>
<text x="509.4" y="132.8" font-size="13" fill="#3c3c3c" font-weight="normal" stroke="#3c3c3c" stroke-width="0.42" textLength="80.1" lengthAdjust="spacingAndGlyphs">Covid-19 Pandemic</text>
<text x="478.9" y="155.3" font-size="13" fill="#3c3c3c" font-weight="normal" stroke="#3c3c3c" stroke-width="0.42" textLength="49.7" lengthAdjust="spacingAndGlyphs">Lost Decade</text>
<text x="426.7" y="183.2" font-size="13" fill="#3c3c3c" font-weight="normal" stroke="#3c3c3c" stroke-width="0.42" textLength="57.7" lengthAdjust="spacingAndGlyphs">Black Monday</text>
<text x="304.1" y="207" font-size="13" fill="#3c3c3c" font-weight="normal" stroke="#3c3c3c" stroke-width="0.42" textLength="128.9" lengthAdjust="spacingAndGlyphs">Inflation, Vietnam, &amp; Watergate</text>
<text x="246.7" y="221" font-size="13" fill="#3c3c3c" font-weight="normal" stroke="#3c3c3c" stroke-width="0.42" textLength="148.1" lengthAdjust="spacingAndGlyphs">Height of Cold War &amp; Cuban Missile</text>
<text x="371.3" y="233.9" font-size="13" fill="#3c3c3c" font-weight="normal" stroke="#3c3c3c" stroke-width="0.42" textLength="23.5" lengthAdjust="spacingAndGlyphs">Crisis</text>
<text x="151.8" y="276.9" font-size="13" fill="#3c3c3c" font-weight="normal" stroke="#3c3c3c" stroke-width="0.42" textLength="68.2" lengthAdjust="spacingAndGlyphs">WWI &amp; Influenza</text>
<text x="81.7" y="297.6" font-size="13" fill="#3c3c3c" font-weight="normal" stroke="#3c3c3c" stroke-width="0.42" textLength="118.6" lengthAdjust="spacingAndGlyphs">Enforcement of Sherman Act</text>
<text x="135.8" y="320.8" font-size="13" fill="#3c3c3c" font-weight="normal" stroke="#3c3c3c" stroke-width="0.42" textLength="54.5" lengthAdjust="spacingAndGlyphs">Panic of 1907</text>
<text x="394.6" y="320.5" font-size="13" fill="#3c3c3c" font-weight="normal" stroke="#3c3c3c" stroke-width="0.42" textLength="101.3" lengthAdjust="spacingAndGlyphs">Inflationary Bear Market</text>
<text x="107.2" y="342" font-size="13" fill="#3c3c3c" font-weight="normal" stroke="#3c3c3c" stroke-width="0.42" textLength="70.9" lengthAdjust="spacingAndGlyphs">Rich Man's Panic</text>
<text x="320" y="360.7" font-size="13" fill="#3c3c3c" font-weight="normal" stroke="#3c3c3c" stroke-width="0.42" textLength="85.6" lengthAdjust="spacingAndGlyphs">Postwar Bear Market</text>
<text x="74.8" y="362.8" font-size="13" fill="#3c3c3c" font-weight="normal" stroke="#3c3c3c" stroke-width="0.42" textLength="88.5" lengthAdjust="spacingAndGlyphs">Outbreak of Boer War</text>
<text x="285.7" y="379" font-size="13" fill="#3c3c3c" font-weight="normal" stroke="#3c3c3c" stroke-width="0.42" textLength="103.6" lengthAdjust="spacingAndGlyphs">Great Depression &amp; WWII</text>
<text x="78.5" y="386.1" font-size="13" fill="#3c3c3c" font-weight="normal" stroke="#3c3c3c" stroke-width="0.42" textLength="63.5" lengthAdjust="spacingAndGlyphs">Silver Agitation</text>
<text x="260.5" y="398.4" font-size="13" fill="#3c3c3c" font-weight="normal" stroke="#3c3c3c" stroke-width="0.42" textLength="80.1" lengthAdjust="spacingAndGlyphs">1929 Crash &amp; Great</text>
<text x="260.5" y="411.8" font-size="13" fill="#3c3c3c" font-weight="normal" stroke="#3c3c3c" stroke-width="0.42" textLength="46.1" lengthAdjust="spacingAndGlyphs">Depression</text>
<text x="151.8" y="426.7" font-size="13" fill="#3c3c3c" font-weight="normal" stroke="#3c3c3c" stroke-width="0.42" textLength="120.3" lengthAdjust="spacingAndGlyphs">Cornering of Northern Pacific</text>
<text x="123.5" y="446.3" font-size="13" fill="#3c3c3c" font-weight="normal" stroke="#3c3c3c" stroke-width="0.42" textLength="90.4" lengthAdjust="spacingAndGlyphs">Baring Brothers Crisis</text>
<text x="109" y="464.1" font-size="13" fill="#3c3c3c" font-weight="normal" stroke="#3c3c3c" stroke-width="0.42" textLength="121.8" lengthAdjust="spacingAndGlyphs">Depression &amp; Railroad Strikes</text>
<text x="609.6" y="128.7" font-size="13" fill="#a8587a" font-weight="bold" stroke="#a8587a" stroke-width="0.42" textLength="39.7" lengthAdjust="spacingAndGlyphs">$33,033</text>
<text x="609.6" y="144.8" font-size="13" fill="#a50c3c" font-weight="bold" stroke="#a50c3c" stroke-width="0.42" textLength="39.7" lengthAdjust="spacingAndGlyphs">$33,033</text>
<text x="609.3" y="195.3" font-size="13" fill="#1a9fdb" font-weight="bold" stroke="#1a9fdb" stroke-width="0.42" textLength="34.1" lengthAdjust="spacingAndGlyphs">$4,203</text>
<text x="609.3" y="212" font-size="13" fill="#1d4aa6" font-weight="bold" stroke="#1d4aa6" stroke-width="0.42" textLength="34.1" lengthAdjust="spacingAndGlyphs">$4,203</text>
<text x="15.5" y="529" font-size="11.8" fill="#666666" font-weight="normal" stroke="#666666" stroke-width="0.42" textLength="490.2" lengthAdjust="spacingAndGlyphs">Source: Kaplan et al. (2009); Ibbotson (2023); Morningstar Direct; Goetzmann, Ibbotson, and Peng (2000); Pierce (1982);</text>
<text x="15.5" y="544.1" font-size="11.8" fill="#666666" font-weight="normal" stroke="#666666" stroke-width="0.42" textLength="611.4" lengthAdjust="spacingAndGlyphs">www.econ.yale.edu/^shiller/data.htm, Ibbotson Associated SBBI US Large-Cap Stock Inflation Adjusted Total Return Extended Index, S&amp;P 500 (2025),</text>
<text x="15.5" y="559" font-size="11.8" fill="#666666" font-weight="normal" stroke="#666666" stroke-width="0.42" textLength="442.6" lengthAdjust="spacingAndGlyphs">Bureau of Labor Statistics, Non-Seasonally Adjusted Consumer Price Index (2025). Data as of Aug. 31, 2025.</text>
</svg></body></html>
